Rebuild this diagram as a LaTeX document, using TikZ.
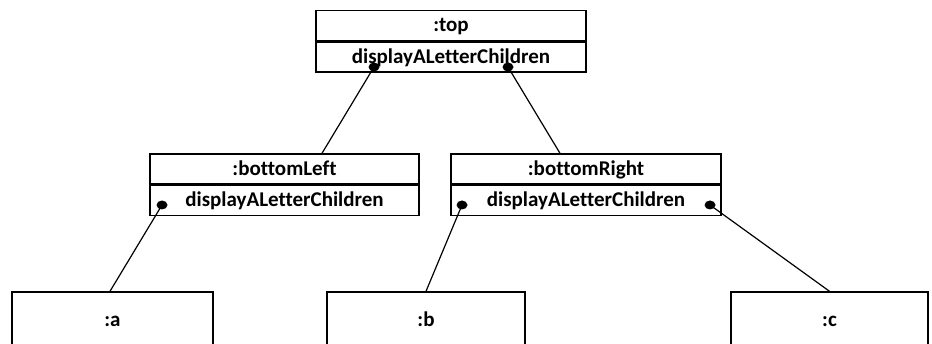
\documentclass[tikz,border=0pt]{standalone}
\usepackage{fontspec}
\setmainfont{Carlito}[Ligatures=NoCommon]
\begin{document}
\begin{tikzpicture}[x=1pt, y=-1pt, font=\bfseries\fontsize{21}{24}\selectfont,
		part/.style={draw, line width=1.4pt, inner sep=0pt, minimum height=30, text height=15pt, text depth=2pt},
		link/.style={line width=1.2pt}]
		\useasboundingbox (0,0) rectangle (932,344);
		\clip (0,0) rectangle (932,344);
		% objects
		\node[part, minimum width=270] (top) at (451,25.5) {:top};
		\node[part, minimum width=270, anchor=north] (topOp) at (top.south) {displayALetterChildren};
		\node[part, minimum width=269] (bottomLeft) at (284.5,169) {:bottomLeft};
		\node[part, minimum width=269, anchor=north] (bottomLeftOp) at (bottomLeft.south) {displayALetterChildren};
		\node[part, minimum width=270] (bottomRight) at (586,169) {:bottomRight};
		\node[part, minimum width=270, anchor=north] (bottomRightOp) at (bottomRight.south) {displayALetterChildren};
		\node[part, minimum width=201, minimum height=56] (a) at (112.5,320) {:a};
		\node[part, minimum width=198, minimum height=56] (b) at (426,320) {:b};
		\node[part, minimum width=197, minimum height=56] (c) at (829.5,320) {:c};
		% links
		\path (374,67) coordinate (topL);
		\path (508,67) coordinate (topR);
		\path (162,205) coordinate (bottomLeftL);
		\path (462,205) coordinate (bottomRightL);
		\path (710,205) coordinate (bottomRightR);
		\draw[link] (topL)--([xshift=37.5pt]bottomLeft.north);
		\draw[link] (topR)--([xshift=-26pt]bottomRight.north);
		\draw[link] (bottomLeftL)--([xshift=-2.5pt]a.north);
		\draw[link] (bottomRightL)--(b.north);
		\draw[link] (bottomRightR)--(c.north);
		\foreach \p in {topL,topR,bottomLeftL,bottomRightL,bottomRightR}
			\fill (\p) ellipse (5.5 and 4.5);
	\end{tikzpicture}
\end{document}
